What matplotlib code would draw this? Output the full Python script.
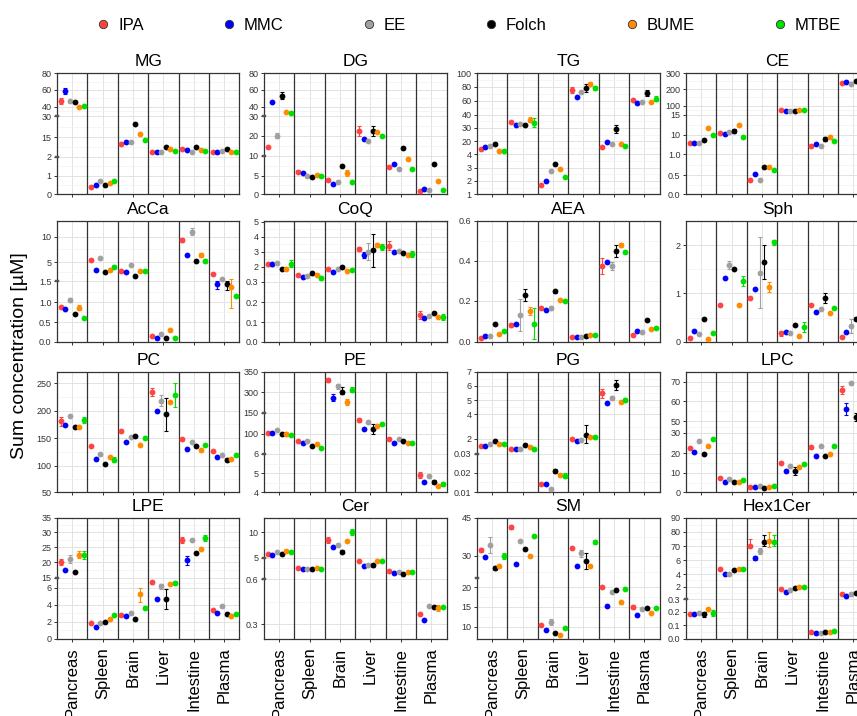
import matplotlib.pyplot as plt
import matplotlib.transforms as mtransforms
from matplotlib.lines import Line2D
import numpy as np

plt.rcParams['font.family'] = ['Liberation Sans', 'DejaVu Sans']

tissues = ['Pancreas', 'Spleen', 'Brain', 'Liver', 'Intestine', 'Plasma']
methods = ['IPA', 'MMC', 'EE', 'Folch', 'BUME', 'MTBE']
colors = ['#FF4444', '#0000FF', '#A0A0A0', '#000000', '#FF8C00', '#00E000']

# mean concentrations: rows = tissues, columns = methods
MG = [[46.8, 58.8, 47.0, 45.6, 39.3, 40.4],
      [0.37, 0.50, 0.71, 0.50, 0.62, 0.71],
      [10.7, 11.6, 11.6, 24.1, 17.1, 13.2],
      [5.4, 5.4, 5.4, 8.7, 7.4, 5.8],
      [7.4, 6.3, 5.4, 8.7, 6.3, 5.8],
      [4.9, 5.4, 5.8, 6.9, 5.4, 4.9]]
MG_sd = [[4, 4, 0, 0, 0, 0],
         [0, 0, 0, 0, 0, 0],
         [0, 0, 0, 0, 0, 0],
         [0, 0, 0, 0, 0, 0],
         [0, 0, 0, 0, 0, 0],
         [0, 0, 0, 0, 0, 0]]

DG = [[14.5, 45.6, 20.0, 53.2, 33.9, 33.2],
      [6.0, 5.6, 5.0, 4.6, 5.2, 4.9],
      [3.8, 2.7, 3.2, 7.4, 5.6, 3.4],
      [22.5, 18.5, 17.5, 22.5, 21.7, 19.7],
      [7.2, 7.9, 6.7, 14.0, 9.2, 6.7],
      [1.0, 1.3, 1.1, 7.9, 3.6, 1.2]]
DG_sd = [[0, 0, 1.3, 4, 0, 0],
         [0.3, 0, 0, 0, 0, 0],
         [0, 0, 0, 0, 0.8, 0],
         [2.5, 0, 0, 2.5, 0, 0],
         [0, 0, 0, 0.5, 0, 0],
         [0, 0, 0, 0, 0, 0]]

TG = [[10.8, 13.2, 14.0, 17.2, 8.0, 8.0],
      [34.8, 32.5, 33.0, 32.0, 36.2, 34.0],
      [1.68, 1.98, 2.75, 3.3, 2.88, 2.3],
      [75.2, 65.2, 72.9, 77.6, 83.5, 78.6],
      [13.2, 18.8, 16.8, 29.3, 17.2, 14.0],
      [60.5, 56.3, 58.6, 71.0, 58.6, 62.9]]
TG_sd = [[1.2, 1.2, 1.2, 0, 0, 0],
         [0, 0, 0, 0, 2, 3.5],
         [0, 0, 0, 0, 0, 0],
         [4, 2, 0, 6, 3, 3],
         [1.5, 0, 0, 3, 0, 0],
         [0, 0, 0, 4, 0, 3]]

CE = [[6.25, 6.25, 6.25, 7.75, 11.6, 10.0],
      [10.5, 10.25, 10.7, 10.8, 12.5, 8.8],
      [0.37, 0.53, 0.37, 0.70, 0.70, 0.62],
      [56, 47, 47, 47, 59, 56],
      [4.75, 5.8, 4.75, 7.9, 8.8, 7.0],
      [240, 246, 231, 252, 250, 245]]
CE_sd = [[0, 0, 0, 0, 0, 0],
         [0, 0, 0, 0.5, 0, 0],
         [0, 0, 0, 0, 0, 0],
         [0, 0, 0, 0, 0, 0],
         [0, 0, 0, 1.0, 0, 0],
         [0, 0, 0, 0, 0, 0]]

AcCa = [[0.875, 0.83, 1.05, 0.71, 0.87, 0.60],
        [5.45, 3.56, 5.8, 3.25, 3.56, 4.2],
        [3.4, 3.2, 4.5, 2.5, 3.44, 3.4],
        [0.147, 0.10, 0.20, 0.10, 0.30, 0.086],
        [9.35, 6.36, 11.0, 5.26, 6.36, 5.3],
        [2.8, 1.43, 1.94, 1.42, 1.35, 1.15]]
AcCa_sd = [[0, 0, 0.05, 0, 0.06, 0],
           [0, 0, 0, 0, 0, 0.3],
           [0, 0, 0, 0, 0, 0],
           [0, 0, 0, 0, 0, 0],
           [0.4, 0, 0.6, 0, 0.4, 0.4],
           [0, 0.12, 0, 0.12, 0.5, 0]]

CoQ = [[2.18, 2.18, 2.27, 1.77, 1.77, 2.18],
       [1.09, 0.87, 0.94, 1.24, 1.02, 0.75],
       [1.70, 1.40, 1.70, 2.0, 1.51, 1.58],
       [3.18, 2.76, 3.0, 3.1, 3.44, 3.29],
       [3.38, 3.0, 3.07, 2.89, 2.76, 2.82],
       [0.137, 0.123, 0.13, 0.145, 0.128, 0.128]]
CoQ_sd = [[0, 0, 0, 0, 0.2, 0.25],
          [0, 0, 0, 0.2, 0, 0.25],
          [0, 0, 0.1, 0, 0, 0],
          [0.15, 0.2, 0.55, 1.1, 0.15, 0.2],
          [0.3, 0, 0, 0, 0, 0.2],
          [0.02, 0, 0, 0, 0, 0.015]]

AEA = [[0.017, 0.030, 0.027, 0.087, 0.038, 0.053],
       [0.082, 0.088, 0.13, 0.227, 0.15, 0.087],
       [0.162, 0.157, 0.165, 0.247, 0.203, 0.200],
       [0.025, 0.025, 0.025, 0.027, 0.032, 0.033],
       [0.375, 0.395, 0.375, 0.45, 0.477, 0.443],
       [0.035, 0.050, 0.047, 0.107, 0.063, 0.068]]
AEA_sd = [[0, 0, 0, 0, 0, 0],
          [0.01, 0, 0.08, 0.03, 0.02, 0.075],
          [0, 0, 0.01, 0.008, 0, 0],
          [0, 0, 0, 0, 0, 0],
          [0.04, 0, 0.02, 0.03, 0.01, 0],
          [0, 0, 0, 0, 0, 0]]

Sph = [[0.083, 0.23, 0.15, 0.48, 0.055, 0.17],
       [0.77, 1.31, 1.58, 1.50, 0.77, 1.26],
       [0.90, 1.10, 1.43, 1.65, 1.13, 2.06],
       [0.17, 0.21, 0.19, 0.34, 0.12, 0.31],
       [0.75, 0.61, 0.67, 0.91, 0.59, 0.69],
       [0.10, 0.21, 0.32, 0.48, 0.05, 0.15]]
Sph_sd = [[0, 0, 0, 0, 0, 0],
          [0, 0, 0.08, 0, 0, 0.1],
          [0, 0, 0.73, 0.35, 0.1, 0.05],
          [0.06, 0, 0, 0, 0, 0.1],
          [0, 0, 0, 0.1, 0, 0],
          [0, 0, 0.15, 0.04, 0, 0]]

PC = [[181, 174, 191, 170, 170, 183],
      [135, 113, 121, 103, 116, 111],
      [163, 143, 152, 155, 138, 151],
      [234, 200, 218, 194, 215, 229],
      [148, 130, 144, 135, 128, 137],
      [126, 115, 119, 111, 112, 119]]
PC_sd = [[8, 0, 0, 0, 0, 6],
         [0, 0, 3, 0, 0, 5],
         [0, 0, 0, 0, 0, 0],
         [7, 0, 10, 30, 0, 22],
         [0, 0, 0, 0, 0, 0],
         [0, 0, 0, 3, 0, 0]]

PE = [[102, 101, 110, 97, 97, 95],
      [65.5, 54.6, 64, 40.5, 53, 34],
      [330, 263, 315, 300, 231, 307],
      [134, 112, 127, 112, 118, 124],
      [73.4, 57.7, 73.4, 64, 56, 57.7],
      [4.91, 4.53, 4.86, 4.53, 4.32, 4.44]]
PE_sd = [[0, 0, 0, 0, 8, 0],
         [0, 0, 0, 0, 0, 0],
         [6, 25, 6, 12, 20, 6],
         [5, 0, 0, 12, 0, 0],
         [0, 0, 0, 0, 0, 0],
         [0.15, 0, 0, 0.12, 0, 0.1]]

PG = [[1.08, 1.08, 1.34, 1.74, 1.30, 1.30],
      [0.69, 0.69, 0.69, 1.17, 0.99, 0.64],
      [0.0144, 0.0144, 0.0118, 0.0209, 0.0188, 0.0184],
      [2.0, 1.78, 1.87, 2.32, 2.19, 2.13],
      [5.47, 4.81, 5.16, 6.05, 4.88, 5.0],
      [np.nan] * 6]
PG_sd = [[0, 0, 0, 0, 0, 0],
         [0, 0, 0, 0, 0, 0.2],
         [0, 0, 0, 0.0012, 0, 0.0012],
         [0, 0, 0, 0.8, 0, 0],
         [0.3, 0, 0.15, 0.35, 0, 0.15],
         [0, 0, 0, 0, 0, 0]]

LPC = [[22.7, 20.5, 25.9, 19.3, 23.5, 26.8],
       [7.4, 5.2, 6.6, 5.2, 5.2, 6.4],
       [2.9, 2.6, 3.1, 2.1, 2.9, 3.1],
       [15.1, 10.9, 13.4, 10.9, 13.2, 14.7],
       [23.0, 18.3, 23.4, 18.3, 19.5, 23.4],
       [65.7, 56.3, 69.1, 52.2, 55, 50]]
LPC_sd = [[0, 0, 0, 0, 0, 0],
          [0, 0, 0, 0, 0, 0],
          [0, 0, 0, 0, 0, 0],
          [0, 0, 0, 2, 0, 0],
          [0, 0, 0, 0, 0, 0],
          [2, 3, 0, 2, 0, 0]]

LPE = [[20.2, 17.4, 21.1, 17.0, 22.6, 22.4],
       [1.8, 1.4, 1.8, 2.0, 2.27, 2.8],
       [2.8, 2.67, 2.98, 2.31, 5.25, 3.65],
       [10.8, 4.67, 7.8, 4.67, 9.0, 10.5],
       [27.4, 20.7, 27.6, 23.1, 24.6, 28.2],
       [3.35, 3.06, 3.8, 2.9, 2.63, 2.94]]
LPE_sd = [[1, 0, 1.2, 0, 1.2, 1.3],
          [0, 0, 0, 0, 0, 0],
          [0, 0, 0, 0, 0.9, 0],
          [1.5, 0, 2, 1.2, 0, 1.5],
          [1, 1.4, 0, 0, 0, 1],
          [0, 0, 0, 0, 0, 0]]

Cer = [[5.72, 5.53, 6.05, 5.66, 6.38, 6.18],
       [2.94, 2.60, 2.60, 2.60, 2.80, 2.60],
       [8.5, 7.04, 7.6, 6.18, 8.36, 10.1],
       [4.31, 3.35, 3.49, 3.49, 4.38, 4.31],
       [2.25, 1.77, 2.05, 1.57, 1.98, 2.10],
       [0.367, 0.329, 0.42, 0.411, 0.409, 0.411]]
Cer_sd = [[0, 0, 0, 0, 0, 0],
          [0, 0, 0, 0, 0, 0],
          [0.6, 0, 0, 0.3, 0, 0.6],
          [0, 0, 0, 0.3, 0, 0],
          [0, 0, 0, 0, 0, 0],
          [0, 0, 0, 0, 0.02, 0]]

SM = [[32.2, 29.7, 34.2, 26.2, 26.8, 29.9],
      [41.2, 27.3, 35.9, 32.6, 30.0, 37.8],
      [10.4, 9.2, 11.2, 8.5, 7.9, 9.8],
      [33.2, 26.8, 31.0, 28.4, 26.7, 35.3],
      [20.0, 15.1, 18.9, 19.4, 16.1, 19.7],
      [15.0, 12.9, 14.5, 14.7, 13.4, 14.7]]
SM_sd = [[0.8, 0, 3, 0.7, 0, 1],
         [0.8, 0, 0, 0, 0, 0],
         [0, 0, 0.8, 0, 0, 0],
         [0, 0, 1.3, 2.6, 0, 0.8],
         [0, 0, 0, 0, 0.5, 0],
         [0.5, 0, 0, 0, 0, 0]]

Hex1Cer = [[0.18, 0.18, 0.19, 0.18, 0.218, 0.19],
           [4.71, 4.0, 4.0, 4.52, 4.71, 4.76],
           [70, 15.1, 47, 73, 73.5, 73],
           [1.68, 1.31, 1.59, 1.86, 1.95, 1.95],
           [0.051, 0.039, 0.039, 0.046, 0.049, 0.059],
           [0.99, 0.76, 0.99, 1.08, 1.1, 1.1]]
Hex1Cer_sd = [[0, 0, 0.01, 0.02, 0, 0.02],
              [0, 0, 0, 0, 0, 0],
              [5, 8, 15, 5, 6, 5],
              [0, 0, 0, 0, 0, 0],
              [0, 0, 0, 0, 0, 0],
              [0, 0, 0, 0, 0, 0]]

# broken y axes: knot values -> fraction of panel height (piecewise linear)
scales = {
    'MG': dict(kv=[0, 1, 2, 15, 30, 40, 60, 80],
               kf=[0, .154, .311, .471, .647, .725, .862, 1],
               ticks=[0, 1, 2, 15, 30, 40, 60, 80], breaks=[2, 30]),
    'DG': dict(kv=[0, 5, 10, 20, 30, 40, 60, 80],
               kf=[0, .154, .320, .485, .647, .725, .862, 1],
               ticks=[0, 5, 10, 20, 30, 40, 60, 80], breaks=[10, 30]),
    'TG': dict(kv=[1, 2, 3, 4, 20, 30, 40, 60, 80, 100],
               kf=[0, .110, .219, .329, .438, .548, .658, .775, .890, 1],
               ticks=[1, 2, 3, 4, 20, 30, 40, 60, 80, 100], faint=[4, 40]),
    'CE': dict(kv=[0, 0.5, 1, 10, 15, 100, 200, 300],
               kf=[0, .159, .329, .493, .658, .732, .868, 1],
               ticks=[0, 0.5, 1, 10, 15, 100, 200, 300],
               labels=['0.0', '0.5', '1.0', '10', '15', '100', '200', '300'], faint=[1, 15]),
    'AcCa': dict(kv=[0, 0.5, 1, 1.5, 5, 10, 13.1],
                 kf=[0, .160, .325, .501, .656, .868, 1],
                 ticks=[0, 0.5, 1, 1.5, 5, 10],
                 labels=['0.0', '0.5', '1.0', '1.5', '5', '10'], breaks=[1.5]),
    'CoQ': dict(kv=[0, 0.1, 0.2, 0.3, 2, 3, 4, 5, 5.07],
                kf=[0, .160, .325, .496, .620, .744, .868, .992, 1],
                ticks=[0, 0.1, 0.2, 0.3, 2, 3, 4, 5],
                labels=['0.0', '0.1', '0.2', '0.3', '2', '3', '4', '5'], faint=[0.3]),
    'AEA': dict(kv=[0, 0.2, 0.4, 0.6], kf=[0, .339, .669, 1],
                ticks=[0, 0.2, 0.4, 0.6], labels=['0.0', '0.2', '0.4', '0.6']),
    'Sph': dict(kv=[0, 1, 2, 2.5], kf=[0, .399, .799, 1], ticks=[0, 1, 2]),
    'PC': dict(kv=[50, 100, 150, 200, 250, 271], kf=[0, .221, .448, .677, .903, 1],
               ticks=[50, 100, 150, 200, 250]),
    'PE': dict(kv=[4, 5, 6, 100, 150, 300, 350], kf=[0, .158, .319, .486, .658, .828, 1],
               ticks=[4, 5, 6, 100, 150, 300, 350], breaks=[6, 150]),
    'PG': dict(kv=[0.01, 0.02, 0.03, 2, 4, 5, 6, 7],
               kf=[0, .163, .318, .442, .649, .765, .884, 1],
               ticks=[0.01, 0.02, 0.03, 2, 4, 5, 6, 7],
               labels=['0.01', '0.02', '0.03', '2', '4', '5', '6', '7'],
               breaks=[0.03], faint=[4]),
    'LPC': dict(kv=[0, 10, 20, 30, 50, 60, 70, 75.2],
                kf=[0, .161, .325, .494, .589, .756, .917, 1],
                ticks=[0, 10, 20, 30, 50, 60, 70], faint=[30]),
    'LPE': dict(kv=[0, 2, 4, 6, 15, 20, 25, 30, 35],
                kf=[0, .140, .281, .421, .504, .631, .755, .879, 1],
                ticks=[0, 2, 4, 6, 15, 20, 25, 30, 35], breaks=[15]),
    'Cer': dict(kv=[0.2, 0.3, 0.6, 5, 10, 12.9], kf=[0, .121, .493, .669, .879, 1],
                ticks=[0.3, 0.6, 5, 10], labels=['0.3', '0.6', '5', '10'], breaks=[0.6, 5]),
    'SM': dict(kv=[7, 10, 15, 20, 30, 45], kf=[0, .099, .264, .424, .686, 1],
               ticks=[10, 15, 20, 30, 45], breaks=[23]),
    'Hex1Cer': dict(kv=[0, 0.1, 0.2, 0.3, 2, 4, 6, 70, 80, 90],
                    kf=[0, .113, .223, .328, .430, .534, .650, .766, .884, 1],
                    ticks=[0, 0.1, 0.2, 0.3, 2, 4, 6, 70, 80, 90],
                    labels=['0.0', '0.1', '0.2', '0.3', '2', '4', '6', '70', '80', '90'],
                    breaks=[0.3], faint=[6]),
}

panels = [('MG', MG, MG_sd), ('DG', DG, DG_sd), ('TG', TG, TG_sd), ('CE', CE, CE_sd),
          ('AcCa', AcCa, AcCa_sd), ('CoQ', CoQ, CoQ_sd), ('AEA', AEA, AEA_sd), ('Sph', Sph, Sph_sd),
          ('PC', PC, PC_sd), ('PE', PE, PE_sd), ('PG', PG, PG_sd), ('LPC', LPC, LPC_sd),
          ('LPE', LPE, LPE_sd), ('Cer', Cer, Cer_sd), ('SM', SM, SM_sd), ('Hex1Cer', Hex1Cer, Hex1Cer_sd)]


def piecewise(kv, kf):
    kv = np.asarray(kv, float)
    kf = np.asarray(kf, float)

    def lin(x, xs, ys):
        x = np.asarray(x, float)
        out = np.interp(x, xs, ys)
        s0 = (ys[1] - ys[0]) / (xs[1] - xs[0])
        s1 = (ys[-1] - ys[-2]) / (xs[-1] - xs[-2])
        out = np.where(x < xs[0], ys[0] + (x - xs[0]) * s0, out)
        out = np.where(x > xs[-1], ys[-1] + (x - xs[-1]) * s1, out)
        return out

    return (lambda y: lin(y, kv, kf)), (lambda f: lin(f, kf, kv))


W, H = 857, 716
fig = plt.figure(figsize=(W / 100, H / 100), dpi=100)

col_left = [57, 264, 477, 686]
row_span = [(73.3, 194.3), (220.7, 341.7), (371.7, 492.3), (517.7, 638.7)]
pw = 182.5
x = np.arange(1, 7)
offsets = (np.arange(6) - 2.5) * 0.152
dark = '#333333'

for k, (name, vals, sds) in enumerate(panels):
    r, c = divmod(k, 4)
    top, bot = row_span[r]
    ax = fig.add_axes([col_left[c] / W, 1 - bot / H, pw / W, (bot - top) / H])
    sc = scales[name]
    fwd, inv = piecewise(sc['kv'], sc['kf'])
    ax.set_yscale('function', functions=(fwd, inv))
    ax.set_ylim(sc['kv'][0], sc['kv'][-1])
    ax.set_xlim(0.5, 6.5)

    ticks = sc['ticks']
    labels = sc.get('labels', [str(t) for t in ticks])
    ax.set_yticks(ticks)
    ax.set_yticklabels(labels)
    tf = fwd(np.array(ticks, float))
    ax.set_yticks(inv((tf[:-1] + tf[1:]) / 2), minor=True)
    for lab, t in zip(ax.get_yticklabels(), ticks):
        if t in sc.get('faint', []):
            lab.set_color('#9A9A9A')
    ax.tick_params(axis='y', which='major', labelsize=6.5, length=2.5, width=0.7,
                   color=dark, labelcolor=dark, pad=1.5)
    ax.tick_params(axis='y', which='minor', length=0)
    ax.set_xticks(x)
    ax.tick_params(axis='x', length=2.5, width=0.7, color=dark, pad=4, labelsize=12)
    if r == 3:
        ax.set_xticklabels(tissues, rotation=90, va='top', ha='center')
    else:
        ax.set_xticklabels([])

    ax.grid(True, which='major', color='#E3E3E3', lw=0.7)
    ax.grid(True, which='minor', axis='y', color='#F1F1F1', lw=0.5)
    ax.set_axisbelow(True)
    for s in ax.spines.values():
        s.set_color(dark)
        s.set_linewidth(0.9)
    for sep in np.arange(1.5, 6.5, 1.0):
        ax.axvline(sep, color=dark, lw=0.9, zorder=1.5)

    # small "=" break markers on the y axis
    blend = mtransforms.blended_transform_factory(ax.transAxes, ax.transData)
    for b in sc.get('breaks', []):
        ax.plot(0, b, marker='$=$', ms=3.2, mew=0.3, color='#555555',
                transform=blend, clip_on=False, zorder=5)

    vals = np.array(vals, float)
    sds = np.array(sds, float)
    for j in range(6):
        xj = x + offsets[j]
        has = sds[:, j] > 0
        if has.any():
            ax.errorbar(xj[has], vals[has, j], yerr=sds[has, j], fmt='none',
                        ecolor=colors[j], elinewidth=0.8, capsize=1.3, capthick=0.8, zorder=3)
        ax.plot(xj, vals[:, j], 'o', ms=4.2, color=colors[j], mec=colors[j], mew=0, zorder=4)

    ax.set_title(name, fontsize=12.5, pad=5)

fig.text(20 / W, 1 - 356 / H, 'Sum concentration [µM]', rotation=90,
         fontsize=14, ha='center', va='center')

handles = [Line2D([], [], marker='o', ls='', mfc=c, mec=dark, mew=0.6, ms=6) for c in colors]
fig.legend(handles, methods, loc='center', bbox_to_anchor=(468 / W, 1 - 25 / H), ncol=6,
           frameon=False, fontsize=12, handlelength=1, handletextpad=0.4, columnspacing=4.6)

fig.savefig('out.png', dpi=100)
